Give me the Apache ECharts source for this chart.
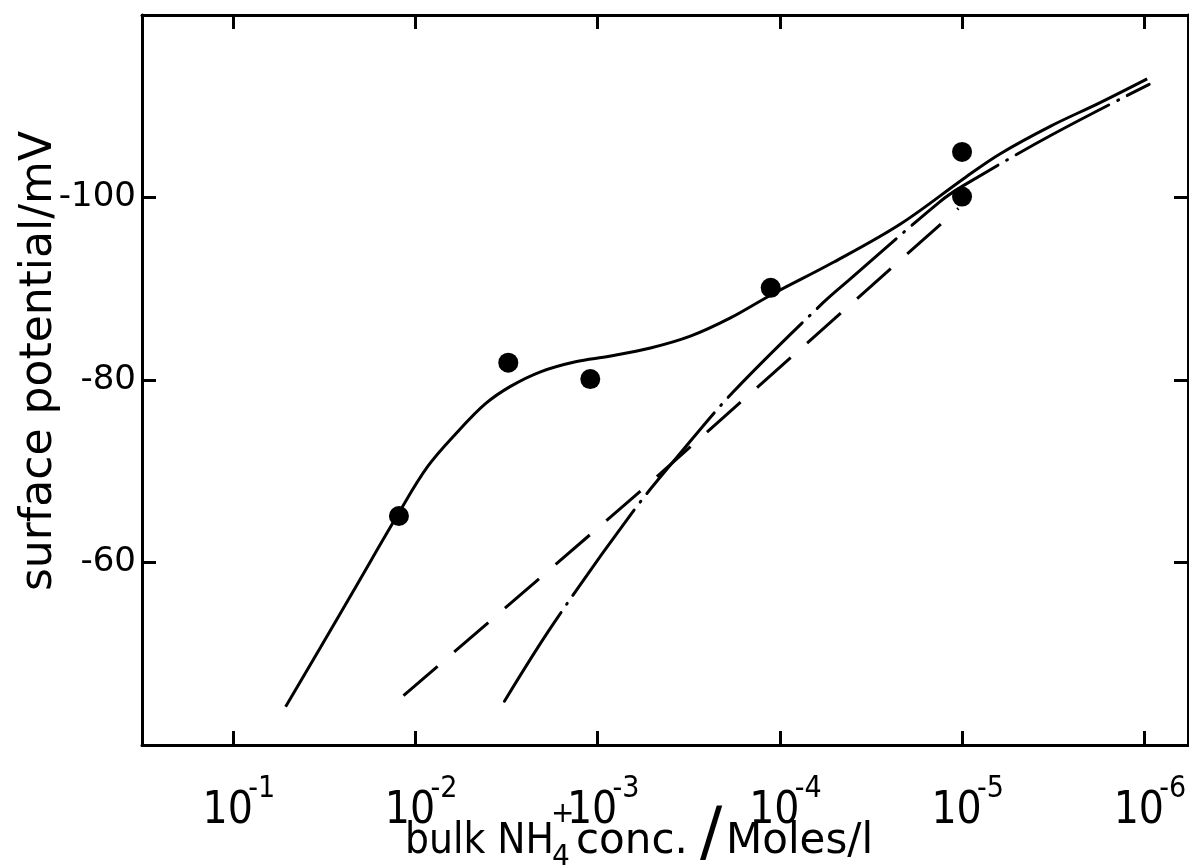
<!DOCTYPE html>
<html lang="en">
<head>
  <meta charset="UTF-8">
  <title>surface potential vs bulk NH4+ conc.</title>
  <style>
    html, body { margin: 0; padding: 0; background: #fff; }
    #main { width: 1189px; height: 866px; }
  </style>
</head>
<body>
  <div id="main"></div>
  <script src="https://cdn.jsdelivr.net/npm/echarts@6/dist/echarts.min.js"></script>
  <script>
    // x values are log10 of bulk NH4+ conc. (Moles/l), y values in mV
    var tickExp = [-1, -2, -3, -4, -5, -6];

    // measured points
    var pointLogC = [-1.91, -2.51, -2.96, -3.95, -5.0, -5.0];
    var pointMv = [-65.1, -81.9, -80.1, -90.1, -105.0, -100.1];

    // full curve (solid)
    var solidLogC = [-1.288, -1.480, -1.672, -1.908, -2.067, -2.231, -2.385, -2.522, -2.687, -2.879, -3.065,
      -3.290, -3.509, -3.729, -3.959, -4.294, -4.662, -5.018, -5.210, -5.484, -5.758, -6.016];
    var solidMv = [-44.2, -50.7, -57.3, -65.4, -70.5, -74.3, -77.4, -79.3, -80.9, -82.0, -82.6,
      -83.5, -84.8, -86.8, -89.4, -92.9, -97.1, -102.2, -104.8, -107.8, -110.4, -113.0];

    // dash-dot curve
    var dashDotLogC = [-2.489, -2.758, -3.191, -3.455, -3.740, -4.239, -4.376, -4.876, -5.007, -5.496, -6.027];
    var dashDotMv = [-44.8, -53.3, -65.5, -72.0, -78.6, -88.5, -90.9, -99.5, -101.3, -106.9, -112.4];

    // dashed line
    var dashedLogC = [-1.935, -3.252, -4.980];
    var dashedMv = [-45.4, -68.1, -98.8];

    function pairs(xs, ys) {
      return xs.map(function (x, i) { return [x, ys[i]]; });
    }

    var FONT = '"DejaVu Sans"';
    var NARROW = '"DejaVu Sans Condensed", "DejaVu Sans"';

    var myChart = echarts.init(document.getElementById('main'));

    var tickStyle = { inside: true, length: 14, lineStyle: { color: '#000', width: 3 } };
    var lineAxis = { show: true, onZero: false, lineStyle: { color: '#000', width: 3 } };

    var xBase = {
      type: 'value',
      min: -6.24,
      max: -0.5,
      inverse: true,
      axisLine: lineAxis,
      splitLine: { show: false },
      axisTick: Object.assign({ customValues: tickExp }, tickStyle)
    };

    var txt = function (s, x, y, size, family) {
      return {
        type: 'text', x: x, y: y,
        style: { text: s, font: size + 'px ' + (family || FONT), fill: '#000', align: 'left', verticalAlign: 'middle' }
      };
    };

    var option = {
      animation: false,
      backgroundColor: '#fff',
      grid: { left: 142, top: 15, right: 1, bottom: 121, outerBoundsMode: 'none' },
      xAxis: [
        Object.assign({}, xBase, {
          position: 'bottom',
          axisLabel: {
            customValues: tickExp,
            margin: 29,
            padding: [0, 0, 0, 16],
            formatter: function (v) { return '{b|10}{s|' + v + '}'; },
            rich: {
              b: { fontFamily: NARROW, fontSize: 44, lineHeight: 60, width: 41, color: '#000', verticalAlign: 'bottom' },
              s: { fontFamily: NARROW, fontSize: 30, lineHeight: 30, color: '#000', verticalAlign: 'top' }
            }
          }
        }),
        Object.assign({}, xBase, { position: 'top', axisLabel: { show: false } })
      ],
      yAxis: [
        {
          type: 'value', position: 'left', min: -120, max: -40, interval: 20, inverse: true,
          axisLine: lineAxis, axisTick: tickStyle, splitLine: { show: false },
          axisLabel: {
            margin: 6, color: '#000', fontFamily: 'DejaVu Sans', fontSize: 34,
            formatter: function (v) { return (v === -120 || v === -40) ? '' : String(v); }
          }
        },
        {
          type: 'value', position: 'right', min: -120, max: -40, interval: 20, inverse: true,
          axisLine: lineAxis, axisTick: tickStyle, splitLine: { show: false },
          axisLabel: { show: false }
        }
      ],
      graphic: [
        {
          type: 'text', x: 40, y: 361, rotation: Math.PI / 2,
          style: { text: 'surface potential/mV', font: '44px ' + FONT, fill: '#000', align: 'center', verticalAlign: 'middle' }
        },
        txt('bulk NH', 405, 842, 42, NARROW),
        txt('+', 551, 815, 28),
        txt('4', 552, 858, 28),
        txt('conc.', 576, 842, 42),
        txt('/', 700, 837, 66),
        txt('Moles/l', 726, 842, 42)
      ],
      series: [
        {
          type: 'line', name: 'solid', data: pairs(solidLogC, solidMv), smooth: 0.35, symbol: 'none',
          lineStyle: { color: '#000', width: 3 }
        },
        {
          type: 'line', name: 'dash-dot', data: pairs(dashDotLogC, dashDotMv), smooth: 0.35, symbol: 'none',
          lineStyle: { color: '#000', width: 3, type: [105, 10, 1, 10], cap: 'round' }
        },
        {
          type: 'line', name: 'dashed', data: pairs(dashedLogC, dashedMv), smooth: false, symbol: 'none',
          lineStyle: { color: '#000', width: 3, type: [45, 22] }
        },
        {
          type: 'scatter', name: 'measured', data: pairs(pointLogC, pointMv), symbolSize: 20,
          itemStyle: { color: '#000', opacity: 1 }, z: 5
        }
      ]
    };

    option && myChart.setOption(option);
  </script>
</body>
</html>
